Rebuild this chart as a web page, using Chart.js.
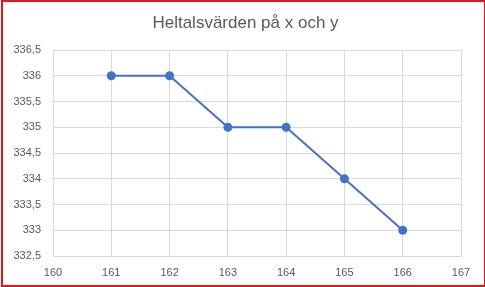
<!DOCTYPE html>
<html>
<head>
<meta charset="utf-8">
<script src="https://cdn.jsdelivr.net/npm/chart.js@4"></script>
<style>
html,body{margin:0;padding:0;background:#fff;}
#wrap{position:relative;width:485px;height:287px;}
#frame{position:absolute;left:1px;top:0;width:481px;height:283px;border:2px solid #e3161e;pointer-events:none;}
canvas{position:absolute;left:0;top:0;}
</style>
</head>
<body>
<div id="wrap">
<canvas id="c" width="485" height="287"></canvas>
<div id="frame"></div>
</div>
<script>
const titleText = "Heltalsvärden på x och y";
const xValues = [161, 162, 163, 164, 165, 166];
const yValues = [336, 336, 335, 335, 334, 333];
const xMin = 160, xMax = 167, xStep = 1;
const yMin = 332.5, yMax = 336.5, yStep = 0.5;

const points = xValues.map((x, i) => ({x: x, y: yValues[i]}));
const gray = '#595959';
const gridColor = '#d9d9d9';
const fontFam = "'Liberation Sans', Arial, sans-serif";

const centeredTitle = {
  id: 'centeredTitle',
  afterDraw(chart) {
    const ctx = chart.ctx;
    ctx.save();
    ctx.font = "17px " + fontFam;
    ctx.fillStyle = gray;
    ctx.textAlign = 'center';
    ctx.textBaseline = 'middle';
    ctx.fillText(titleText, 245.5, 23);
    ctx.restore();
  }
};

new Chart(document.getElementById('c'), {
  type: 'scatter',
  data: {
    datasets: [{
      data: points,
      showLine: true,
      borderColor: '#4472C4',
      backgroundColor: '#4472C4',
      borderWidth: 2,
      pointRadius: 3.5,
      pointHoverRadius: 3.5,
      tension: 0
    }]
  },
  plugins: [centeredTitle],
  options: {
    responsive: false,
    animation: false,
    devicePixelRatio: 1,
    layout: {padding: {left: 0, right: 24, top: 50, bottom: 0}},
    plugins: {
      legend: {display: false},
      tooltip: {enabled: false},
      title: {display: false}
    },
    scales: {
      x: {
        type: 'linear',
        min: xMin, max: xMax,
        afterFit: (s) => { s.height = 31; },
        border: {color: gridColor, width: 1},
        grid: {color: gridColor, drawTicks: false},
        ticks: {
          stepSize: xStep, color: gray, padding: 10,
          font: {family: fontFam, size: 11},
          callback: (v) => String(v)
        }
      },
      y: {
        type: 'linear',
        min: yMin, max: yMax,
        afterFit: (s) => { s.width = 53; },
        border: {color: gridColor, width: 1},
        grid: {color: gridColor, drawTicks: false},
        ticks: {
          stepSize: yStep, color: gray, padding: 12,
          font: {family: fontFam, size: 11},
          callback: (v) => String(v).replace('.', ',')
        }
      }
    }
  }
});
</script>
</body>
</html>
